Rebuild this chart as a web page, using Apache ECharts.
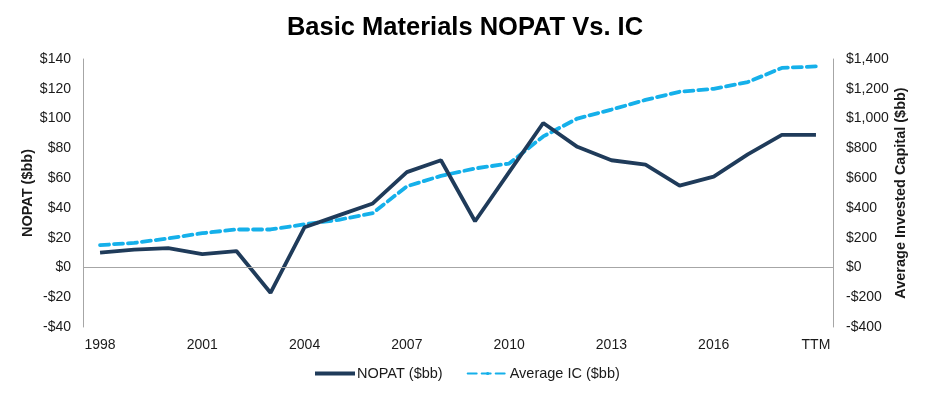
<!DOCTYPE html>
<html>
<head>
<meta charset="utf-8">
<script src="https://cdn.jsdelivr.net/npm/echarts@6/dist/echarts.min.js"></script>
<style>
  html, body { margin: 0; padding: 0; background: #fff; }
  #chart { width: 930px; height: 396px; }
</style>
</head>
<body>
<div id="chart"></div>
<script>
const years = ['1998', '1999', '2000', '2001', '2002', '2003', '2004', '2005', '2006', '2007', '2008',
  '2009', '2010', '2011', '2012', '2013', '2014', '2015', '2016', '2017', '2018', 'TTM']
const nopat = [10, 12, 13, 9, 11, -17, 27, 35, 43, 64, 72, 31, 64, 97, 81, 72, 69, 55, 61, 76, 89, 89]
const avgIC = [150, 165, 195, 230, 255, 255, 290, 320, 365, 545, 615, 665, 698, 880, 1000, 1060, 1125, 1180, 1200, 1245, 1340, 1350]

const NAVY = '#1f3b5a'
const BLUE = '#15b0ea'
const AXIS_GRAY = '#a6a6a6'
const TEXT = '#1a1a1a'
const FONT = 'Liberation Sans, Arial, sans-serif'

const chart = echarts.init(document.getElementById('chart'))

const option = {
  animation: false,
  textStyle: { fontFamily: FONT },
  title: {
    text: 'Basic Materials NOPAT Vs. IC',
    left: 'center',
    top: 10,
    textStyle: { fontFamily: FONT, fontSize: 25.5, fontWeight: 'bold', color: '#000' }
  },
  legend: {
    bottom: 10,
    left: 310,
    itemWidth: 40,
    itemHeight: 4,
    itemGap: 24,
    textStyle: { fontFamily: FONT, fontSize: 14.5, color: TEXT, padding: [0, 0, 0, -3] },
    data: [
      { name: 'NOPAT ($bb)', icon: 'rect' },
      { name: 'Average IC ($bb)' }
    ]
  },
  grid: { left: 83, right: 97, top: 59, bottom: 69 },
  xAxis: {
    type: 'category',
    data: years,
    boundaryGap: true,
    axisLine: { show: false },
    axisTick: { show: false },
    axisLabel: { interval: 2, color: TEXT, fontSize: 14, margin: 11, fontFamily: FONT }
  },
  yAxis: [
    {
      type: 'value',
      min: -40,
      max: 140,
      interval: 20,
      name: 'NOPAT ($bb)',
      nameLocation: 'middle',
      nameGap: 48,
      nameRotate: 90,
      nameMoveOverlap: false,
      nameTextStyle: { fontFamily: FONT, fontSize: 14.5, fontWeight: 'bold', color: TEXT },
      axisLine: { show: true, lineStyle: { color: AXIS_GRAY, width: 1 } },
      axisTick: { show: false },
      splitLine: { show: false },
      axisLabel: {
        color: TEXT, fontSize: 14, margin: 12, fontFamily: FONT,
        formatter: v => (v < 0 ? '-$' : '$') + Math.abs(v)
      }
    },
    {
      type: 'value',
      min: -400,
      max: 1400,
      interval: 200,
      name: 'Average Invested Capital ($bb)',
      nameLocation: 'middle',
      nameGap: 60,
      nameRotate: 90,
      nameMoveOverlap: false,
      nameTextStyle: { fontFamily: FONT, fontSize: 14.5, fontWeight: 'bold', color: TEXT },
      axisLine: { show: true, lineStyle: { color: AXIS_GRAY, width: 1 } },
      axisTick: { show: false },
      splitLine: { show: false },
      axisLabel: {
        color: TEXT, fontSize: 14, margin: 13, fontFamily: FONT,
        formatter: v => (v < 0 ? '-$' : '$') + Math.abs(v).toLocaleString('en-US')
      }
    }
  ],
  series: [
    {
      name: 'NOPAT ($bb)',
      type: 'line',
      yAxisIndex: 0,
      data: nopat,
      symbol: 'none',
      z: 3,
      lineStyle: { color: NAVY, width: 3.8 },
      itemStyle: { color: NAVY },
      markLine: {
        silent: true,
        symbol: 'none',
        label: { show: false },
        lineStyle: { color: AXIS_GRAY, type: 'solid', width: 1 },
        data: [{ yAxis: 0 }]
      }
    },
    {
      name: 'Average IC ($bb)',
      type: 'line',
      yAxisIndex: 1,
      data: avgIC,
      symbol: 'none',
      z: 2,
      lineStyle: { color: BLUE, width: 3.8, type: [9, 5], cap: 'round' },
      itemStyle: { color: BLUE }
    }
  ]
}

chart.setOption(option)
</script>
</body>
</html>
